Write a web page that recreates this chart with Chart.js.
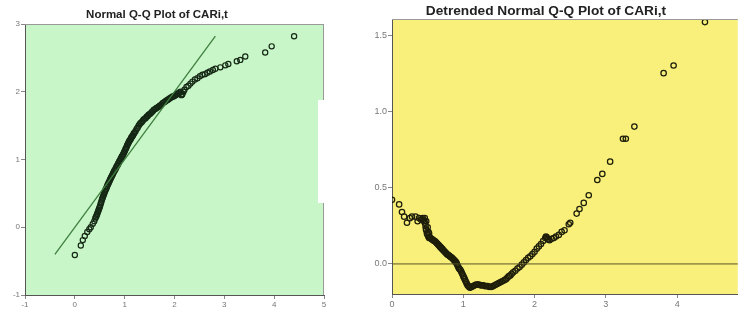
<!DOCTYPE html>
<html>
<head>
<meta charset="utf-8">
<script src="https://cdn.jsdelivr.net/npm/chart.js@4.4.1/dist/chart.umd.min.js"></script>
<style>
  html, body { margin: 0; padding: 0; background: #fff; }
  body { width: 738px; height: 320px; position: relative; overflow: hidden; font-family: "Liberation Sans", Arial, sans-serif; }
  .box { position: absolute; top: 0; height: 320px; }
  .title { position: absolute; font-weight: bold; color: #222; white-space: nowrap; transform: translateX(-50%); }
  .patch { position: absolute; background: #fff; }
</style>
</head>
<body>
<div class="box" id="leftBox" style="left:0;width:335px;"><canvas id="qqCanvas"></canvas></div>
<div class="box" id="rightBox" style="left:350px;width:393px;"><canvas id="dtCanvas"></canvas></div>
<div class="title" style="left:157px;top:8px;font-size:11.5px;">Normal Q-Q Plot of CARi,t</div>
<div class="title" style="left:546px;top:3px;font-size:13.7px;">Detrended Normal Q-Q Plot of CARi,t</div>
<div class="patch" style="left:318px;top:100px;width:32px;height:103px;"></div>

<script>
// Normal Q-Q plot: observed value vs expected normal
const qqObserved = [
  0.00, 0.12, 0.16, 0.20, 0.25, 0.29, 0.32, 0.36, 0.39,
  0.41, 0.42, 0.43, 0.44, 0.45, 0.46, 0.47, 0.48, 0.49, 0.50,
  0.51, 0.52, 0.53, 0.54, 0.55, 0.56, 0.57, 0.58, 0.59, 0.60,
  0.61, 0.62, 0.63, 0.64, 0.65, 0.66, 0.67, 0.68, 0.69, 0.70,
  0.71, 0.72, 0.73, 0.74, 0.75, 0.76, 0.77, 0.78, 0.79, 0.80,
  0.81, 0.82, 0.83, 0.84, 0.85, 0.86, 0.87, 0.88, 0.89, 0.90,
  0.91, 0.92, 0.93, 0.94, 0.95, 0.96, 0.97, 0.98, 0.99, 1.00,
  1.01, 1.02, 1.03, 1.04, 1.05, 1.06, 1.07, 1.08, 1.09, 1.10,
  1.11, 1.12, 1.13, 1.14, 1.15, 1.16, 1.17, 1.18, 1.19, 1.20,
  1.22, 1.24, 1.26, 1.28, 1.30, 1.32, 1.34, 1.36, 1.38, 1.40,
  1.42, 1.44, 1.46, 1.48, 1.50, 1.52, 1.54, 1.56, 1.58, 1.60,
  1.62, 1.64, 1.66, 1.68, 1.70, 1.72, 1.74, 1.76, 1.78, 1.80,
  1.82, 1.84, 1.86, 1.88, 1.90, 1.92, 1.94, 1.96, 1.98, 2.00,
  2.02, 2.04, 2.06, 2.08, 2.10, 2.12, 2.14, 2.15, 2.16, 2.18, 2.20,
  2.24, 2.28, 2.32, 2.36, 2.41, 2.46, 2.51, 2.56, 2.61, 2.66,
  2.71, 2.77, 2.82, 2.92, 3.02, 3.08, 3.25, 3.32, 3.42, 3.82, 3.95, 4.40
];
const qqExpected = [
  -0.41, -0.27, -0.19, -0.13, -0.07, -0.03, 0.00, 0.05, 0.09,
  0.13, 0.15, 0.16, 0.18, 0.20, 0.22, 0.24, 0.26, 0.28, 0.30,
  0.32, 0.35, 0.37, 0.40, 0.42, 0.44, 0.46, 0.48, 0.50, 0.52,
  0.54, 0.56, 0.57, 0.59, 0.61, 0.63, 0.64, 0.66, 0.67, 0.69,
  0.71, 0.72, 0.74, 0.75, 0.77, 0.78, 0.80, 0.81, 0.83, 0.84,
  0.85, 0.87, 0.88, 0.90, 0.91, 0.92, 0.94, 0.95, 0.97, 0.98,
  0.99, 1.01, 1.02, 1.04, 1.05, 1.06, 1.08, 1.09, 1.11, 1.12,
  1.14, 1.16, 1.17, 1.19, 1.21, 1.22, 1.24, 1.25, 1.27, 1.28,
  1.29, 1.30, 1.32, 1.33, 1.34, 1.35, 1.36, 1.38, 1.39, 1.40,
  1.42, 1.45, 1.47, 1.50, 1.52, 1.54, 1.55, 1.57, 1.59, 1.60,
  1.61, 1.63, 1.64, 1.66, 1.67, 1.68, 1.70, 1.71, 1.73, 1.74,
  1.75, 1.76, 1.77, 1.78, 1.79, 1.80, 1.81, 1.83, 1.84, 1.85,
  1.86, 1.87, 1.88, 1.89, 1.90, 1.91, 1.92, 1.93, 1.93, 1.94,
  1.95, 1.96, 1.97, 1.98, 1.99, 2.00, 1.95, 1.96, 1.97, 2.00, 2.03,
  2.07, 2.09, 2.12, 2.15, 2.18, 2.20, 2.23, 2.25, 2.26, 2.28,
  2.30, 2.32, 2.34, 2.36, 2.39, 2.41, 2.45, 2.47, 2.52, 2.58, 2.67, 2.82
];
const qqLineX = [-0.40, 2.82];
const qqLineY = [-0.40, 2.82];
const qqXTicks = [-1, 0, 1, 2, 3, 4, 5];
const qqYTicks = [-1, 0, 1, 2, 3];

// Detrended normal Q-Q plot: observed value vs deviation from normal
const dtObserved = [
  0.00, 0.10, 0.14, 0.17, 0.21, 0.25, 0.28, 0.33, 0.36, 0.38, 0.41,
  0.43, 0.44, 0.45, 0.46, 0.46, 0.47, 0.475, 0.48, 0.48, 0.49, 0.50, 0.50,
  0.51, 0.51, 0.52, 0.52, 0.53, 0.54, 0.55, 0.56, 0.57, 0.58, 0.59, 0.60,
  0.61, 0.62, 0.63, 0.64, 0.65, 0.66, 0.67, 0.68, 0.69, 0.70,
  0.71, 0.72, 0.73, 0.74, 0.75, 0.76, 0.77, 0.78, 0.79, 0.80,
  0.81, 0.82, 0.83, 0.84, 0.85, 0.86, 0.87, 0.88, 0.89, 0.90,
  0.91, 0.92, 0.93, 0.94, 0.95, 0.96, 0.97, 0.98, 0.99, 1.00,
  1.01, 1.02, 1.03, 1.04, 1.05, 1.06, 1.07, 1.08, 1.09, 1.10,
  1.12, 1.14, 1.16, 1.18, 1.20, 1.22, 1.24, 1.26, 1.28, 1.30,
  1.32, 1.34, 1.36, 1.38, 1.40, 1.42, 1.44, 1.46, 1.48, 1.50,
  1.52, 1.54, 1.56, 1.58, 1.60, 1.62, 1.64, 1.66, 1.68, 1.70,
  1.73, 1.76, 1.79, 1.82, 1.85, 1.88, 1.91, 1.94, 1.97, 2.00,
  2.03, 2.06, 2.09, 2.12, 2.15, 2.16, 2.17, 2.18, 2.19, 2.21,
  2.24, 2.27, 2.30, 2.34, 2.38, 2.42, 2.48, 2.50, 2.59, 2.63,
  2.69, 2.76, 2.88, 2.95, 3.06, 3.24, 3.28, 3.40, 3.81, 3.95, 4.39
];
const dtDeviation = [
  0.42, 0.39, 0.34, 0.31, 0.27, 0.30, 0.31, 0.31, 0.28, 0.30, 0.29,
  0.30, 0.29, 0.28, 0.27, 0.30, 0.25, 0.23, 0.22, 0.28, 0.20, 0.19, 0.24,
  0.18, 0.21, 0.17, 0.20, 0.175, 0.17, 0.165, 0.16, 0.16, 0.155, 0.15, 0.15,
  0.145, 0.14, 0.135, 0.13, 0.125, 0.12, 0.115, 0.11, 0.105, 0.10,
  0.095, 0.09, 0.085, 0.08, 0.075, 0.07, 0.065, 0.06, 0.058, 0.055,
  0.05, 0.047, 0.043, 0.04, 0.035, 0.03, 0.025, 0.02, 0.015, 0.01,
  0.00, -0.01, -0.02, -0.03, -0.035, -0.04, -0.05, -0.06, -0.07, -0.08,
  -0.09, -0.10, -0.11, -0.12, -0.13, -0.14, -0.145, -0.15, -0.155, -0.155,
  -0.15, -0.145, -0.14, -0.135, -0.135, -0.135, -0.14, -0.14, -0.14, -0.145,
  -0.145, -0.145, -0.15, -0.15, -0.15, -0.145, -0.14, -0.135, -0.13, -0.125,
  -0.12, -0.115, -0.11, -0.105, -0.10, -0.09, -0.08, -0.075, -0.065, -0.055,
  -0.045, -0.03, -0.02, -0.005, 0.01, 0.025, 0.04, 0.05, 0.065, 0.08,
  0.10, 0.115, 0.13, 0.15, 0.17, 0.18, 0.175, 0.165, 0.16, 0.155,
  0.165, 0.17, 0.18, 0.19, 0.21, 0.22, 0.26, 0.27, 0.33, 0.36,
  0.40, 0.45, 0.55, 0.59, 0.67, 0.82, 0.82, 0.90, 1.25, 1.30, 1.585
];
const dtZeroX = [0, 5];
const dtZeroY = [0, 0];
const dtXTicks = [0, 1, 2, 3, 4];
const dtYTicks = [0, 0.5, 1.0, 1.5];

const toPoints = (xs, ys) => xs.map((x, i) => ({ x: x, y: ys[i] }));

// fills the plot area and draws the frame around it
const plotArea = {
  id: "plotArea",
  beforeDraw(chart, args, opts) {
    const { ctx, chartArea: a } = chart;
    ctx.save();
    ctx.fillStyle = opts.fill;
    ctx.fillRect(a.left, a.top, a.width, a.height);
    ctx.restore();
  },
  afterDraw(chart, args, opts) {
    const { ctx, chartArea: a } = chart;
    ctx.save();
    ctx.strokeStyle = opts.frame;
    ctx.lineWidth = 1;
    ctx.beginPath();
    ctx.moveTo(a.left, a.top + 0.5);
    ctx.lineTo(a.right, a.top + 0.5);
    if (opts.rightEdge) {
      ctx.moveTo(a.right - 0.5, a.top);
      ctx.lineTo(a.right - 0.5, a.bottom);
    }
    ctx.stroke();
    ctx.restore();
  },
};

const fixedTicks = (values) => (scale) => {
  scale.ticks = values.map((v) => ({ value: v }));
};

const axisBase = (size) => ({
  type: "linear",
  grid: { drawOnChartArea: false, drawTicks: true, tickLength: 4, color: "#888" },
  border: { display: true, color: "#555", width: 1 },
  ticks: { color: "#777", padding: 1, font: { family: "Liberation Sans, Arial", size: size } },
});

new Chart(document.getElementById("qqCanvas").getContext("2d"), {
  type: "scatter",
  data: {
    datasets: [
      {
        type: "line",
        data: toPoints(qqLineX, qqLineY),
        borderColor: "#3f7f3f",
        borderWidth: 1.3,
        pointRadius: 0,
        fill: false,
      },
      {
        data: toPoints(qqObserved, qqExpected),
        pointStyle: "circle",
        pointRadius: 2.6,
        pointBorderWidth: 1.2,
        backgroundColor: "rgba(0,0,0,0)",
        borderColor: "#152815",
      },
    ],
  },
  options: {
    responsive: true,
    maintainAspectRatio: false,
    animation: false,
    layout: { padding: { top: 24, right: 11, left: 0, bottom: 0 } },
    plugins: {
      legend: { display: false },
      tooltip: { enabled: false },
      plotArea: { fill: "#c8f6c8", frame: "#999", rightEdge: true },
    },
    scales: {
      x: {
        ...axisBase(8),
        min: -1,
        max: 5,
        afterBuildTicks: fixedTicks(qqXTicks),
        afterFit: (s) => { s.height = 25; },
      },
      y: {
        ...axisBase(8),
        min: -1,
        max: 3,
        afterBuildTicks: fixedTicks(qqYTicks),
        afterFit: (s) => { s.width = 25; },
      },
    },
  },
  plugins: [plotArea],
});

new Chart(document.getElementById("dtCanvas").getContext("2d"), {
  type: "scatter",
  data: {
    datasets: [
      {
        type: "line",
        data: toPoints(dtZeroX, dtZeroY),
        borderColor: "#5a5228",
        borderWidth: 1,
        pointRadius: 0,
        fill: false,
      },
      {
        data: toPoints(dtObserved, dtDeviation),
        pointStyle: "circle",
        pointRadius: 2.7,
        pointBorderWidth: 1.25,
        backgroundColor: "rgba(0,0,0,0)",
        borderColor: "#1e1e0a",
      },
    ],
  },
  options: {
    responsive: true,
    maintainAspectRatio: false,
    animation: false,
    layout: { padding: { top: 19, right: 0, left: 0, bottom: 0 } },
    plugins: {
      legend: { display: false },
      tooltip: { enabled: false },
      plotArea: { fill: "#f8f07a", frame: "#999", rightEdge: false },
    },
    scales: {
      x: {
        ...axisBase(9),
        min: 0,
        max: 4.85,
        afterBuildTicks: fixedTicks(dtXTicks),
        afterFit: (s) => { s.height = 26; s.paddingLeft = 0; s.paddingRight = 0; },
      },
      y: {
        ...axisBase(9),
        min: -0.197,
        max: 1.605,
        ticks: {
          ...axisBase(9).ticks,
          callback: (v) => v.toFixed(1),
        },
        afterBuildTicks: fixedTicks(dtYTicks),
        afterFit: (s) => { s.width = 42; },
      },
    },
  },
  plugins: [plotArea],
});
</script>
</body>
</html>
